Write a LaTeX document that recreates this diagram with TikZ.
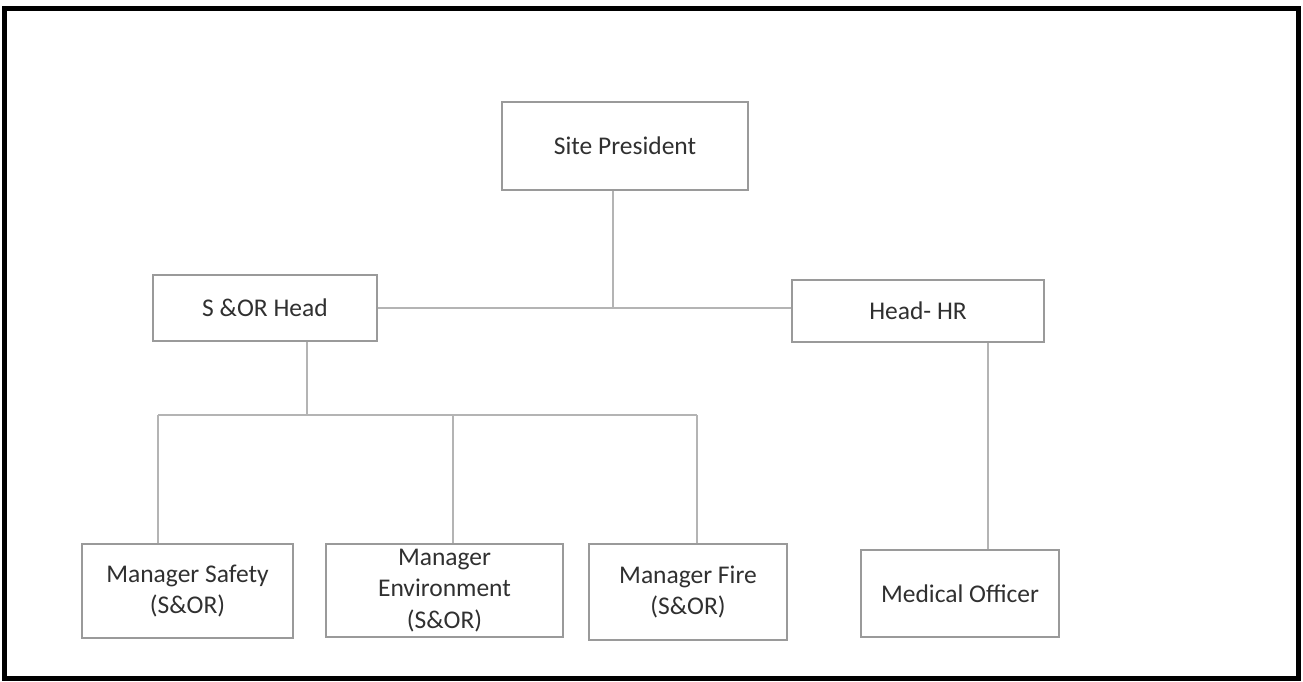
\documentclass[tikz,border=0pt]{standalone}
\usepackage{fontspec}
\setmainfont{Carlito}
\usetikzlibrary{positioning}
\definecolor{boxline}{HTML}{9A9A9A}
\definecolor{linkline}{HTML}{B4B4B4}
\definecolor{labeltext}{HTML}{303030}

\begin{document}
\begin{tikzpicture}[
    % --- Global Settings ---
    % One unit is one pixel of the page, y runs downwards
    x=1pt, y=-1pt,
    every node/.style={font=\fontsize{25.5}{31.5}\selectfont, text=labeltext}
  ]

  % --- Style Definitions ---
  \tikzset{
    % Style for the position boxes (thin grey border)
    box/.style={
      draw=boxline,
      line width=1.6pt,
      fill=white,
      inner sep=2pt,
      align=center
    },
    % Style for the connecting lines
    link/.style={
      draw=linkline,
      line width=1.6pt
    }
  }

  % --- Page and Frame ---
  \useasboundingbox (0,0) rectangle (1303,681);
  \fill[white] (0,0) rectangle (1303,681);
  \draw[line width=5pt] (4,8.5) rectangle (1298.5,678.5);

  % --- Node Placement ---
  % Top level
  \node[box, minimum width=246pt, minimum height=88pt] (president) at (625,146) {Site President};

  % Second level
  \node[box, minimum width=224pt, minimum height=66pt] (sorhead) at (265,308) {S \&OR Head};
  \node[box, minimum width=252pt, minimum height=62pt] (hrhead) at (918,311) {Head- HR};

  % Third level
  \node[box, minimum width=211pt, minimum height=94pt] (mgrsafety) at (187.5,591) {Manager Safety\\(S\&OR)};
  \node[box, minimum width=237pt, minimum height=93pt] (mgrenv) at (444.5,590.5) {Manager\\Environment\\(S\&OR)};
  \node[box, minimum width=198pt, minimum height=96pt] (mgrfire) at (688,592) {Manager Fire\\(S\&OR)};
  \node[box, minimum width=198pt, minimum height=87pt] (medical) at (960,593.5) {Medical Officer};

  % --- Junction Points ---
  \coordinate (topjoin) at (613,309);
  \coordinate (sorjoin) at (307,415);
  \coordinate (dropsafety) at (158,415);
  \coordinate (dropenv) at (453,415);
  \coordinate (dropfire) at (697,415);
  \coordinate (drophr) at (988,342);

  % --- Path Drawing ---
  % President down to the line between the two heads
  \draw[link] (topjoin |- president.south) -- (topjoin);
  \draw[link] (sorhead.east) -- (sorhead.east -| hrhead.west);

  % S&OR head down to its three managers
  \draw[link] (sorjoin |- sorhead.south) -- (sorjoin);
  \draw[link] (dropsafety) -- (dropfire);
  \draw[link] (dropsafety) -- (dropsafety |- mgrsafety.north);
  \draw[link] (dropenv) -- (dropenv |- mgrenv.north);
  \draw[link] (dropfire) -- (dropfire |- mgrfire.north);

  % HR head down to the medical officer
  \draw[link] (drophr |- hrhead.south) -- (drophr |- medical.north);

\end{tikzpicture}
\end{document}
